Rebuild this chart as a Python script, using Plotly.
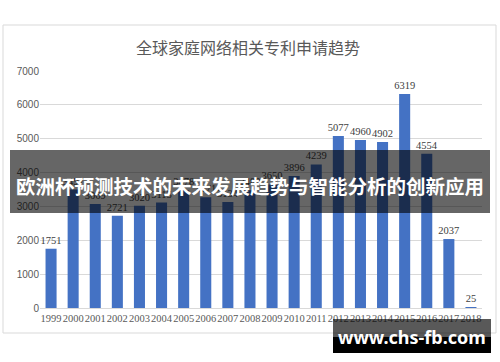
import plotly.graph_objects as go

years = [str(y) for y in range(1999, 2019)]
values = [1751, 3497, 3069, 2721, 3020, 3115, 3478, 3271, 3134, 3480,
          3650, 3896, 4239, 5077, 4960, 4902, 6319, 4554, 2037, 25]
y_ticks = [0, 1000, 2000, 3000, 4000, 5000, 6000, 7000]

title_text = "全球家庭网络相关专利申请趋势"
banner_text = "欧洲杯预测技术的未来发展趋势与智能分析的创新应用"
watermark_text = "www.chs-fb.com"

fig = go.Figure(go.Bar(
    x=years, y=values,
    marker=dict(color="#4472C4", line=dict(width=0)),
    text=[str(v) for v in values],
    textposition="outside",
    constraintext="none",
    textfont=dict(family="Liberation Serif", size=10.5, color="#404040"),
    cliponaxis=False,
    width=0.5,
))

# plot-area pixel helpers (plot spans x 40..482, y 71..308)
def px(x):
    return (x - 40) / 442

def py(y):
    return (308 - y) / 237

shapes = [
    dict(type="rect", xref="paper", yref="paper", x0=px(3), x1=px(496), y0=py(333), y1=py(25),
         line=dict(color="#d9d9d9", width=1), fillcolor="rgba(0,0,0,0)", layer="below"),
    dict(type="rect", xref="paper", yref="paper", x0=px(10), x1=px(490), y0=py(213), y1=py(150),
         line=dict(width=0), fillcolor="rgba(0,0,0,0.6)", layer="above"),
    dict(type="rect", xref="paper", yref="paper", x0=px(333), x1=px(491), y0=py(337), y1=py(319),
         line=dict(width=0), fillcolor="rgba(0,0,0,0.65)", layer="above"),
    dict(type="rect", xref="paper", yref="paper", x0=px(333), x1=px(491), y0=py(353), y1=py(337),
         line=dict(width=0), fillcolor="#000000", layer="above"),
]

annotations = [
    dict(text=title_text, xref="paper", yref="paper", x=px(248), y=py(47),
         showarrow=False, xanchor="center", yanchor="middle",
         font=dict(family="Noto Sans CJK SC", size=16, color="#595959")),
    dict(text="<b>" + banner_text + "</b>", xref="paper", yref="paper", x=px(250), y=py(185),
         showarrow=False, xanchor="center", yanchor="middle",
         font=dict(family="Noto Sans CJK SC", size=19.5, color="#ffffff")),
    dict(text="<b>" + watermark_text + "</b>", xref="paper", yref="paper", x=px(412), y=py(337),
         showarrow=False, xanchor="center", yanchor="middle",
         font=dict(family="Noto Sans, DejaVu Sans", size=18, color="#ffffff")),
]

fig.update_layout(
    width=500, height=362,
    margin=dict(l=40, r=18, t=71, b=54, autoexpand=False),
    paper_bgcolor="#ffffff", plot_bgcolor="#ffffff",
    showlegend=False,
    bargap=0.5,
    shapes=shapes,
    annotations=annotations,
    xaxis=dict(
        type="category", tickmode="array", tickvals=years, ticktext=years,
        showgrid=False, showline=True, linecolor="#d9d9d9", linewidth=1,
        ticks="", tickangle=0, automargin=False,
        tickfont=dict(family="Liberation Serif", size=10.5, color="#595959"),
    ),
    yaxis=dict(
        range=[0, 7000], tickmode="array", tickvals=y_ticks,
        showgrid=True, gridcolor="#d9d9d9", gridwidth=1,
        zeroline=False, showline=False, ticks="", automargin=False,
        tickfont=dict(family="Liberation Sans", size=10, color="#595959"),
    ),
)

fig.write_html("out.html", config={"displayModeBar": False},
               post_script="document.body.style.margin='0px';")
